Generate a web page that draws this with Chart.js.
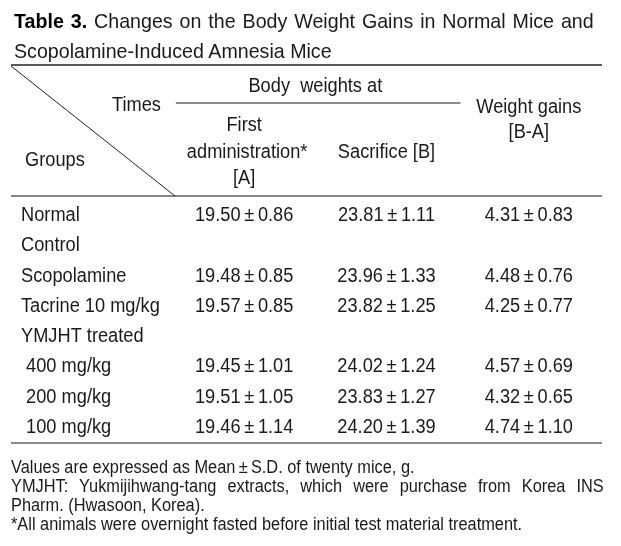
<!DOCTYPE html>
<html>
<head>
    <title>Table 3. Body Weight Gains</title>
    <script src="https://cdn.jsdelivr.net/npm/chart.js"></script>
    <style>
        body {
            margin: 0;
            background-color: white;
            font-family: "Liberation Sans", Arial, sans-serif;
            color: #1a1a1a;
        }
        .page {
            position: relative;
            width: 621px;
            height: 546px;
            overflow: hidden;
        }
        #tableChart {
            position: absolute;
            left: 0;
            top: 0;
        }
        .line {
            position: absolute;
            white-space: nowrap;
            transform: scaleX(0.935);
            transform-origin: 0 0;
        }
        .justify {
            text-align: justify;
            text-align-last: justify;
            white-space: normal;
        }
        .title {
            font-size: 21px;
            line-height: 30px;
        }
        .title b {
            color: #000;
        }
        .note {
            font-size: 17.5px;
            line-height: 19px;
        }
    </style>
</head>
<body>
    <div class="page">
        <canvas id="tableChart" width="621" height="546"></canvas>

        <div class="line title justify" style="left:14px; top:6px; width:620px;"><b>Table 3.</b> Changes on the Body Weight Gains in Normal Mice and</div>
        <div class="line title" style="left:14px; top:36px;">Scopolamine-Induced Amnesia Mice</div>

        <div class="line note" style="left:11px; top:458px;">Values are expressed as Mean&thinsp;±&thinsp;S.D. of twenty mice, g.</div>
        <div class="line note justify" style="left:11px; top:477px; width:634px;">YMJHT: Yukmijihwang-tang extracts, which were purchase from Korea INS</div>
        <div class="line note" style="left:11px; top:496px;">Pharm. (Hwasoon, Korea).</div>
        <div class="line note" style="left:11px; top:515px;">*All animals were overnight fasted before initial test material treatment.</div>
    </div>

    <script>
        // rows of the table
        const groups = ['Normal', 'Control', 'Scopolamine', 'Tacrine 10 mg/kg', 'YMJHT treated',
                        ' 400 mg/kg', ' 200 mg/kg', ' 100 mg/kg'];

        // body weights at first administration [A]
        const firstMean = [19.50, null, 19.48, 19.57, null, 19.45, 19.51, 19.46];
        const firstSD   = [0.86, null, 0.85, 0.85, null, 1.01, 1.05, 1.14];

        // body weights at sacrifice [B]
        const sacrificeMean = [23.81, null, 23.96, 23.82, null, 24.02, 23.83, 24.20];
        const sacrificeSD   = [1.11, null, 1.33, 1.25, null, 1.24, 1.27, 1.39];

        // weight gains [B-A]
        const gainMean = [4.31, null, 4.48, 4.25, null, 4.57, 4.32, 4.74];
        const gainSD   = [0.83, null, 0.76, 0.77, null, 0.69, 0.65, 1.10];

        const FONT = '19.5px "Liberation Sans", Arial, sans-serif';
        const SQUEEZE = 0.935;

        function cells(col, means, sds) {
            const pts = [];
            means.forEach((m, i) => {
                if (m === null) return;
                pts.push({ x: col, y: i, text: m.toFixed(2) + '\u2009±\u2009' + sds[i].toFixed(2) });
            });
            return pts;
        }

        function say(ctx, s, x, y, align) {
            ctx.save();
            ctx.translate(x, y);
            ctx.scale(SQUEEZE, 1);
            ctx.textAlign = align || 'center';
            ctx.textBaseline = 'alphabetic';
            ctx.fillText(s, 0, 0);
            ctx.restore();
        }

        function rule(ctx, x1, y1, x2, y2, color, width) {
            ctx.save();
            ctx.strokeStyle = color;
            ctx.lineWidth = width;
            ctx.beginPath();
            ctx.moveTo(x1, y1);
            ctx.lineTo(x2, y2);
            ctx.stroke();
            ctx.restore();
        }

        const tablePlugin = {
            id: 'tablePlugin',
            afterDatasetsDraw(chart) {
                const ctx = chart.ctx;
                const xs = chart.scales.x;
                const ys = chart.scales.y;
                const area = chart.chartArea;

                ctx.save();
                ctx.font = FONT;
                ctx.fillStyle = '#1a1a1a';

                // rules
                rule(ctx, 11, 65, 602, 65, '#5a5a5a', 2);
                rule(ctx, xs.getPixelForValue(0.52), 103, xs.getPixelForValue(2.52), 103, '#666', 1.5);
                rule(ctx, 11, area.top - 3, 602, area.top - 3, '#111', 1.2);
                rule(ctx, 11, area.bottom + 2, 602, area.bottom + 2, '#8a8a8a', 2);
                rule(ctx, 11, 66, 175, area.top - 3, '#222', 1);

                // header
                say(ctx, 'Body  weights at', xs.getPixelForValue(1.5), 92);
                say(ctx, 'Times', 112, 111, 'left');
                say(ctx, 'Groups', 25, 166, 'left');
                say(ctx, 'First', xs.getPixelForValue(1), 131);
                say(ctx, 'administration*', xs.getPixelForValue(1) + 3, 158);
                say(ctx, '[A]', xs.getPixelForValue(1), 184);
                say(ctx, 'Sacrifice [B]', xs.getPixelForValue(2), 158);
                say(ctx, 'Weight gains', xs.getPixelForValue(3), 113);
                say(ctx, '[B-A]', xs.getPixelForValue(3), 138);

                // row labels
                groups.forEach((g, i) => {
                    say(ctx, g, 21, ys.getPixelForValue(i) + 7, 'left');
                });

                // cell values
                chart.data.datasets.forEach((ds, d) => {
                    const meta = chart.getDatasetMeta(d);
                    meta.data.forEach((el, j) => {
                        say(ctx, ds.data[j].text, el.x, el.y + 7);
                    });
                });
                ctx.restore();
            }
        };

        const ctx = document.getElementById('tableChart').getContext('2d');
        const tableChart = new Chart(ctx, {
            type: 'scatter',
            data: {
                datasets: [
                    { label: 'First administration [A]', data: cells(1, firstMean, firstSD), pointRadius: 0 },
                    { label: 'Sacrifice [B]', data: cells(2, sacrificeMean, sacrificeSD), pointRadius: 0 },
                    { label: 'Weight gains [B-A]', data: cells(3, gainMean, gainSD), pointRadius: 0 }
                ]
            },
            options: {
                responsive: false,
                animation: false,
                layout: {
                    padding: { left: 173, right: 21, top: 199, bottom: 105 }
                },
                scales: {
                    x: { type: 'linear', min: 0.5, max: 3.5, display: false },
                    y: { type: 'linear', min: -0.5, max: 7.5, reverse: true, display: false }
                },
                plugins: {
                    legend: { display: false },
                    tooltip: { enabled: false }
                }
            },
            plugins: [tablePlugin]
        });
    </script>
</body>
</html>
